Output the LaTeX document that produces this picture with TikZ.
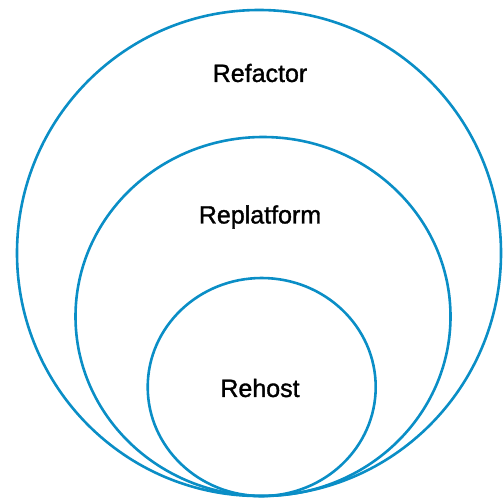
\documentclass[tikz,border=0pt]{standalone}
\usepackage{fontspec}
\setmainfont{Liberation Sans}
\newfontfamily\lblfont[FakeBold=1.3]{Liberation Sans}
\definecolor{ringblue}{RGB}{10,142,198}
\begin{document}
\begin{tikzpicture}[x=1pt,y=-1pt,
  ring/.style={draw=ringblue,line width=2.6pt},
  lbl/.style={font=\lblfont\fontsize{25}{29}\selectfont,text=black,inner sep=0pt}]
\useasboundingbox (0,0) rectangle (503,499);
\draw[ring] (259,253) ellipse [x radius=242,y radius=243];
\draw[ring] (263,316.5) ellipse [x radius=187.5,y radius=179.5];
\draw[ring] (261.7,387) ellipse [x radius=114,y radius=109];
\node[lbl] (refactor) at (260,73) {Refactor};
\node[lbl] (replatform) at (260,217) {Replatform};
\node[lbl] (rehost) at (260,388) {Rehost};
\end{tikzpicture}
\end{document}
